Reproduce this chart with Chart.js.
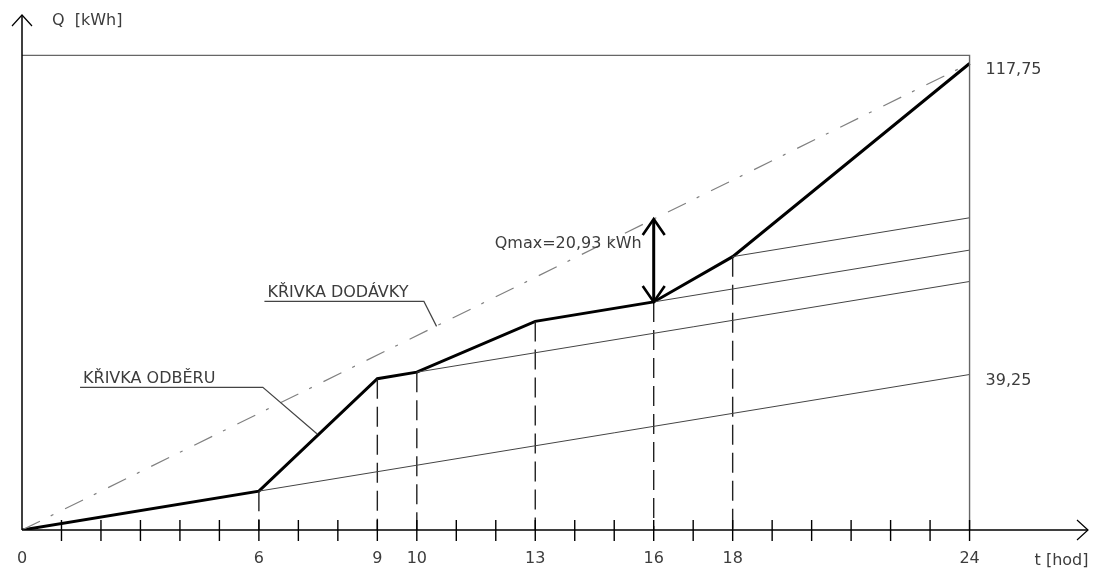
<!DOCTYPE html>
<html>
<head>
<meta charset="utf-8">
<script src="https://cdn.jsdelivr.net/npm/chart.js@4"></script>
<style>
  html, body { margin: 0; padding: 0; background: #fff; }
  canvas { display: block; }
</style>
</head>
<body>
<canvas id="chart" width="1101" height="571"></canvas>
<script>
// hours of the breakpoints and the consumption curve (křivka odběru)
const hours = [0, 6, 9, 10, 13, 16, 18, 24];
const odber = [0, 9.81, 38.2, 39.84, 52.66, 57.57, 69.0, 117.75];

// supply curve (křivka dodávky)
const dodavkaHours = [0, 24];
const dodavka = [0, 117.75];

// thin lines with the base rate, from a breakpoint to 24 h
const thinStart = [6, 10, 16, 18];
const thinStartQ = [9.81, 39.84, 57.57, 69.0];
const thinEndQ = [39.25, 62.73, 70.65, 78.81];

// vertical dashed lines
const dropHours = [6, 9, 10, 13, 16, 18];
const dropQ = [9.81, 38.2, 39.84, 52.66, 57.57, 69.0];

// Qmax arrow
const qmaxHour = 16;
const qmaxFrom = 57.57;
const qmaxTo = 78.5;

// frame and axis labels
const frameTop = 119.8;
const tickLabels = [0, 6, 9, 10, 13, 16, 18, 24];
const rightLabels = [117.75, 39.25];

const FONT = '"DejaVu Sans", Verdana, sans-serif';
const TEXT = '#3c3c3c';

const datasets = [];

// frame
datasets.push({
  data: [{x: 0, y: frameTop}, {x: 24, y: frameTop}, {x: 24, y: 0}],
  borderColor: '#666', borderWidth: 1.4
});

// thin base-rate lines
thinStart.forEach((h, i) => {
  datasets.push({
    data: [{x: h, y: thinStartQ[i]}, {x: 24, y: thinEndQ[i]}],
    borderColor: '#444', borderWidth: 1
  });
});

// dashed drop lines
dropHours.forEach((h, i) => {
  datasets.push({
    data: [{x: h, y: dropQ[i]}, {x: h, y: 0}],
    borderColor: '#222', borderWidth: 1.4, borderDash: [20, 8]
  });
});

// supply curve, dash-dot
datasets.push({
  data: dodavkaHours.map((h, i) => ({x: h, y: dodavka[i]})),
  borderColor: '#808080', borderWidth: 1.2, borderDash: [20, 12, 3, 13]
});

// consumption curve, thick
datasets.push({
  data: hours.map((h, i) => ({x: h, y: odber[i]})),
  borderColor: '#000', borderWidth: 3, borderJoinStyle: 'miter'
});

// Qmax arrow shaft
datasets.push({
  data: [{x: qmaxHour, y: qmaxFrom}, {x: qmaxHour, y: qmaxTo}],
  borderColor: '#000', borderWidth: 3
});

datasets.forEach(d => {
  d.showLine = true;
  d.pointRadius = 0;
  d.fill = false;
  d.tension = 0;
});

function openHead (ctx, x, y, dx, dy, len, half) {
  // open "V" arrow head pointing in direction (dx, dy)
  const nx = -dy, ny = dx;
  ctx.beginPath();
  ctx.moveTo(x - dx * len + nx * half, y - dy * len + ny * half);
  ctx.lineTo(x, y);
  ctx.lineTo(x - dx * len - nx * half, y - dy * len - ny * half);
  ctx.stroke();
}

function leaderLabel (ctx, xs, ys, text, u1, u2, uy, tx, ty) {
  const p = v => ({x: xs.getPixelForValue(v[0]), y: ys.getPixelForValue(v[1])});
  const a = p([u1, uy]), b = p([u2, uy]), c = p([tx, ty]);
  ctx.strokeStyle = '#444';
  ctx.lineWidth = 1.2;
  ctx.beginPath();
  ctx.moveTo(a.x, a.y);
  ctx.lineTo(b.x, b.y);
  ctx.lineTo(c.x, c.y);
  ctx.stroke();
  ctx.fillStyle = TEXT;
  ctx.textAlign = 'left';
  ctx.textBaseline = 'alphabetic';
  ctx.fillText(text, a.x + 3, a.y - 4);
}

const drawingPlugin = {
  id: 'drawing',
  afterDatasetsDraw (chart) {
    const ctx = chart.ctx;
    const xs = chart.scales.x, ys = chart.scales.y;
    const x0 = xs.getPixelForValue(0), y0 = ys.getPixelForValue(0);
    const xEnd = xs.getPixelForValue(xs.max), yEnd = ys.getPixelForValue(ys.max);
    ctx.save();

    // axes
    ctx.strokeStyle = '#000';
    ctx.lineWidth = 1.5;
    ctx.beginPath();
    ctx.moveTo(x0, y0); ctx.lineTo(xEnd, y0);
    ctx.moveTo(x0, y0); ctx.lineTo(x0, yEnd);
    ctx.stroke();
    ctx.lineWidth = 1.2;
    openHead(ctx, xEnd, y0, 1, 0, 11, 10);
    openHead(ctx, x0, yEnd, 0, -1, 11, 10);

    // hour ticks
    ctx.lineWidth = 1.4;
    for (let h = 1; h <= 24; h++) {
      const px = xs.getPixelForValue(h);
      ctx.beginPath();
      ctx.moveTo(px, y0 - 10);
      ctx.lineTo(px, y0 + 11);
      ctx.stroke();
    }

    // tick labels
    ctx.fillStyle = TEXT;
    ctx.font = '16px ' + FONT;
    ctx.textAlign = 'center';
    ctx.textBaseline = 'middle';
    tickLabels.forEach(h => {
      ctx.fillText(String(h), xs.getPixelForValue(h), y0 + 29);
    });

    // axis titles
    ctx.textAlign = 'left';
    ctx.fillText('t [hod]', xs.getPixelForValue(24) + 65, y0 + 31);
    ctx.fillText('Q  [kWh]', x0 + 30, 21);

    // right value labels
    rightLabels.forEach(v => {
      ctx.fillText(v.toFixed(2).replace('.', ','), xs.getPixelForValue(24) + 16, ys.getPixelForValue(v) + 6);
    });

    // Qmax arrow heads and label
    const qx = xs.getPixelForValue(qmaxHour);
    ctx.strokeStyle = '#000';
    ctx.lineWidth = 2.6;
    openHead(ctx, qx, ys.getPixelForValue(qmaxTo), 0, -1, 16, 11);
    openHead(ctx, qx, ys.getPixelForValue(qmaxFrom), 0, 1, 16, 11);
    ctx.fillStyle = TEXT;
    ctx.textAlign = 'right';
    ctx.fillText('Qmax=20,93 kWh', qx - 12, ys.getPixelForValue(72.2));

    // curve labels with leaders
    leaderLabel(ctx, xs, ys, 'KŘIVKA DODÁVKY', 6.14, 10.18, 57.7, 10.5, 51.4);
    leaderLabel(ctx, xs, ys, 'KŘIVKA ODBĚRU', 1.47, 6.1, 36.0, 7.47, 24.3);

    ctx.restore();
  }
};

new Chart(document.getElementById('chart'), {
  type: 'scatter',
  data: { datasets: datasets },
  options: {
    responsive: false,
    animation: false,
    devicePixelRatio: 1,
    layout: { padding: { left: 22, right: 13, top: 15, bottom: 41 } },
    plugins: { legend: { display: false }, tooltip: { enabled: false } },
    scales: {
      x: { type: 'linear', min: 0, max: 27, display: false },
      y: { type: 'linear', min: 0, max: 130, display: false }
    }
  },
  plugins: [drawingPlugin]
});
</script>
</body>
</html>
